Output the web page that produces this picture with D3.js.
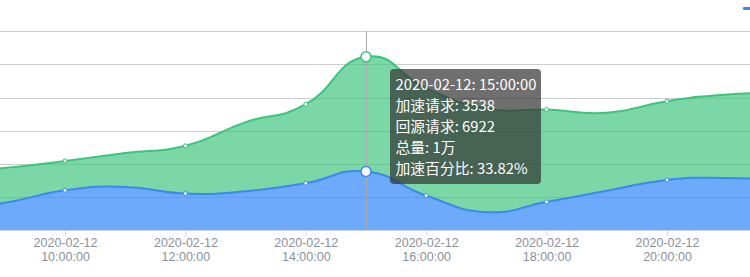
<!DOCTYPE html>
<html><head><meta charset="utf-8">
<script src="https://cdn.jsdelivr.net/npm/d3@7"></script>
<style>
html,body{margin:0;padding:0;background:#fff;overflow:hidden}
svg{display:block;font-family:"Noto Sans CJK SC","Noto Sans",sans-serif}
</style></head>
<body><svg id="c" width="750" height="277"></svg>
<script>
const dateStr = "2020-02-12";
const hours = ["08:00:00","09:00:00","10:00:00","11:00:00","12:00:00","13:00:00","14:00:00","15:00:00","16:00:00","17:00:00","18:00:00","19:00:00","20:00:00","21:00:00","22:00:00"];
const accel  = [1200,1650,2410,2610,2210,2350,2840,3538,2090,1090,1710,2380,3030,3150,2960]; // 加速请求
const origin = [2300,2110,1770,2050,2880,4170,4760,6922,6480,6270,5570,4710,4750,5040,5340]; // 回源请求
const yTicks = [0,2000,4000,6000,8000,10000,12000];
const seriesNames = ["加速请求","回源请求"];
const hoverIndex = 7;

const svg = d3.select("#c");
const W = 750;
const x = d3.scalePoint().domain(hours).range([-55.4, 787.4]);
const y = d3.scaleLinear().domain([0,12000]).range([230.2, 31.3]);

// grid lines
svg.append("g").selectAll("line").data(yTicks.filter(d=>d>0)).join("line")
  .attr("x1",0).attr("x2",W).attr("y1",d=>Math.round(y(d))+0.5).attr("y2",d=>Math.round(y(d))+0.5)
  .attr("stroke","#cccccc").attr("stroke-width",1);

const totals = accel.map((a,i)=>a+origin[i]);
const curve = d3.curveCardinal.tension(-0.5);

// stacked areas
const blueArea = d3.area().x((d,i)=>x(hours[i])).y0(y(0)).y1((d,i)=>y(accel[i])).curve(curve);
const greenArea = d3.area().x((d,i)=>x(hours[i])).y0((d,i)=>y(accel[i])).y1((d,i)=>y(totals[i])).curve(curve);
svg.append("path").datum(hours).attr("d",greenArea).attr("fill","#3cc47c").attr("fill-opacity",0.68);
svg.append("path").datum(hours).attr("d",blueArea).attr("fill","#3c8cf9").attr("fill-opacity",0.74);

const blueLine = d3.line().x((d,i)=>x(hours[i])).y((d,i)=>y(accel[i])).curve(curve);
const greenLine = d3.line().x((d,i)=>x(hours[i])).y((d,i)=>y(totals[i])).curve(curve);
svg.append("path").datum(hours).attr("d",greenLine).attr("fill","none").attr("stroke","#3cc47c").attr("stroke-width",2);
svg.append("path").datum(hours).attr("d",blueLine).attr("fill","none").attr("stroke","#3a88f5").attr("stroke-width",2);

// x axis (only ticks that fall inside the visible area)
const visibleTicks = hours.filter((h,i)=>i%2===0 && x(h)>=0 && x(h)<=W);
const xAxis = d3.axisBottom(x).tickValues(visibleTicks).tickSize(5).tickFormat("");
const ax = svg.append("g").attr("transform",`translate(0,${Math.round(y(0))+0.5})`).call(xAxis);
ax.select(".domain").attr("stroke","#cdd1d8").attr("d",`M0,0H${W}`);
ax.selectAll(".tick line").attr("stroke","#cdd1d8");
ax.selectAll(".tick").each(function(h){
  const g = d3.select(this);
  g.append("text").attr("fill","#8a909c").attr("font-size",12.5).attr("text-anchor","middle")
    .attr("x",0).attr("y",16.5).text(dateStr);
  g.append("text").attr("fill","#8a909c").attr("font-size",12.5).attr("text-anchor","middle")
    .attr("x",0).attr("y",30.5).text(h);
});

// hover line
const hx = Math.round(x(hours[hoverIndex]))+0.5;
svg.append("line").attr("x1",hx).attr("x2",hx).attr("y1",y(12000)).attr("y2",y(0)).attr("stroke","#aaaaaa").attr("stroke-width",1);

// symbols (every other point)
const symIdx = hours.map((h,i)=>i).filter(i=>i%2===0);
svg.append("g").selectAll("circle").data(symIdx).join("circle")
  .attr("cx",i=>x(hours[i])).attr("cy",i=>y(totals[i])).attr("r",2)
  .attr("fill","#fff").attr("stroke","#3cc47c").attr("stroke-width",1);
svg.append("g").selectAll("circle").data(symIdx).join("circle")
  .attr("cx",i=>x(hours[i])).attr("cy",i=>y(accel[i])).attr("r",2)
  .attr("fill","#fff").attr("stroke","#3a88f5").attr("stroke-width",1);

// highlighted points
svg.append("circle").attr("cx",x(hours[hoverIndex])).attr("cy",y(totals[hoverIndex])).attr("r",5)
  .attr("fill","#fff").attr("stroke","#3cc47c").attr("stroke-width",1.5);
svg.append("circle").attr("cx",x(hours[hoverIndex])).attr("cy",y(accel[hoverIndex])).attr("r",5)
  .attr("fill","#fff").attr("stroke","#3a88f5").attr("stroke-width",1.5);

// legend fragment (cropped)
svg.append("rect").attr("x",743).attr("y",7).attr("width",25).attr("height",3).attr("rx",1).attr("fill","#3a88f5");

// tooltip
const a = accel[hoverIndex], o = origin[hoverIndex], tot = a+o;
const lines = [
  `${dateStr}: ${hours[hoverIndex]}`,
  `${seriesNames[0]}: ${a}`,
  `${seriesNames[1]}: ${o}`,
  `总量: ${Math.round(tot/10000)}万`,
  `加速百分比: ${(a/tot*100).toFixed(2)}%`
];
const tg = svg.append("g").attr("transform","translate(390,69)");
tg.append("rect").attr("width",151).attr("height",115).attr("rx",4).attr("fill","rgba(50,50,50,0.7)");
tg.selectAll("text").data(lines).join("text")
  .attr("x",5.5).attr("y",(d,i)=>21+i*21.1).attr("fill","#fff").attr("font-size",14.8).text(d=>d);
</script></body></html>
